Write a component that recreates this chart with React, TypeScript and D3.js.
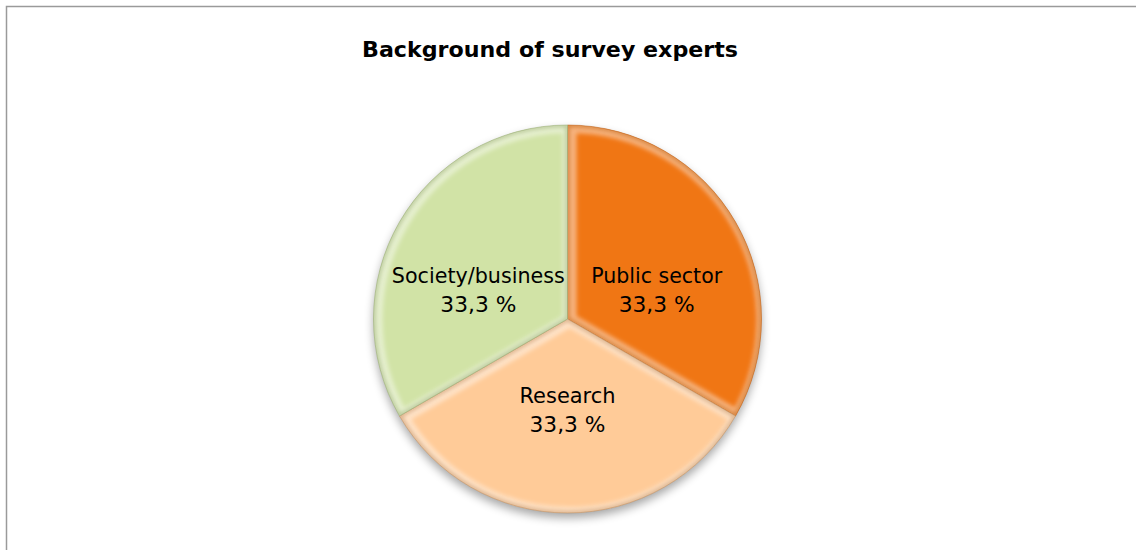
import React from "react";
import * as d3 from "d3";

const title = "Background of survey experts";
const categories = ["Public sector", "Research", "Society/business"];
const values = [33.3, 33.3, 33.3];
const valueLabels = ["33,3 %", "33,3 %", "33,3 %"];
const colors = ["#F07614", "#FFCB98", "#D1E3A6"];
const edgeColors = ["#B8560A", "#B88454", "#8FA46A"];
const nameWidths = [131, 96, 173];

const W = 1136;
const H = 550;
const cx = 567.5;
const cy = 319;
const R = 194;

export default function App() {
  const pie = d3.pie<number>().sort(null).value((d) => d);
  const arcs = pie(values);
  const arc = d3.arc<d3.PieArcDatum<number>>().innerRadius(0).outerRadius(R);

  return (
    <svg
      width={W}
      height={H}
      style={{ position: "absolute", left: 0, top: 0, background: "#fff" }}
      fontFamily="'DejaVu Sans', Verdana, sans-serif"
    >
      <defs>
        <filter id="soft" x="-10%" y="-10%" width="120%" height="120%">
          <feGaussianBlur stdDeviation="2.2" />
        </filter>
        <filter id="shadow" x="-20%" y="-20%" width="140%" height="140%">
          <feGaussianBlur in="SourceAlpha" stdDeviation="5" />
          <feOffset dx="0" dy="5" result="ob" />
          <feComponentTransfer>
            <feFuncA type="linear" slope="0.35" />
          </feComponentTransfer>
        </filter>
        {arcs.map((a, i) => (
          <clipPath id={"clip" + i} key={i}>
            <path d={arc(a) || ""} />
          </clipPath>
        ))}
      </defs>
      <rect x={6.5} y={6.5} width={W + 20} height={H + 20} fill="#fff" stroke="#9a9a9a" strokeWidth={1.5} />
      <text
        x={550}
        y={57}
        textAnchor="middle"
        fontWeight="bold"
        fontSize={22}
        textLength={376}
        lengthAdjust="spacingAndGlyphs"
        fill="#000"
      >
        {title}
      </text>
      <g transform={`translate(${cx},${cy})`}>
        <circle r={R} fill="#000" filter="url(#shadow)" />
        {arcs.map((a, i) => (
          <g key={i}>
            <path d={arc(a) || ""} fill={colors[i]} />
            <g clipPath={`url(#clip${i})`}>
              <path
                d={arc(a) || ""}
                fill="none"
                stroke="#ffffff"
                strokeOpacity={0.45}
                strokeWidth={14}
                filter="url(#soft)"
                transform="translate(2,1)"
              />
              <path
                d={arc(a) || ""}
                fill="none"
                stroke={edgeColors[i]}
                strokeOpacity={0.55}
                strokeWidth={4}
                filter="url(#soft)"
              />
            </g>
            <path d={arc(a) || ""} fill="none" stroke={edgeColors[i]} strokeOpacity={0.6} strokeWidth={0.8} />
          </g>
        ))}
        {arcs.map((a, i) => {
          const mid = (a.startAngle + a.endAngle) / 2;
          const c = Math.cos(mid);
          const x = 103 * Math.sin(mid);
          const y = -c * (c > 0 ? 59 : 91);
          return (
            <g key={"l" + i} fontSize={22} fill="#000" textAnchor="middle">
              <text x={x} y={y - 7} textLength={nameWidths[i]} lengthAdjust="spacingAndGlyphs">
                {categories[i]}
              </text>
              <text x={x} y={y + 22} textLength={76} lengthAdjust="spacingAndGlyphs">
                {valueLabels[i]}
              </text>
            </g>
          );
        })}
      </g>
    </svg>
  );
}
